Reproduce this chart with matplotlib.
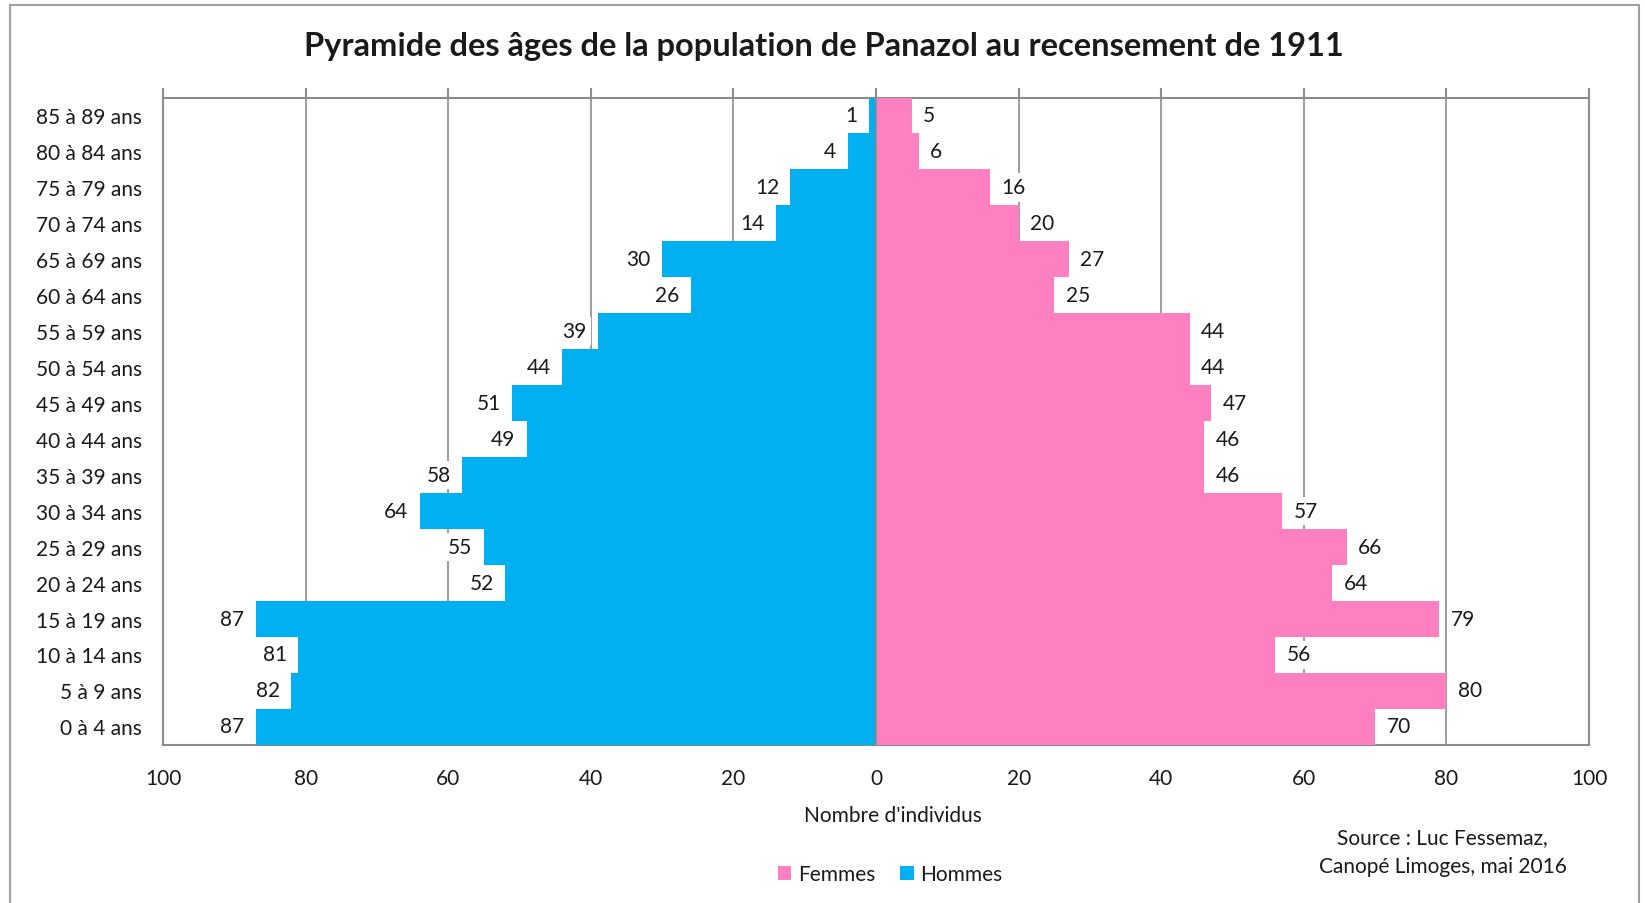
import matplotlib.pyplot as plt
import numpy as np
from matplotlib.patches import Rectangle

plt.rcParams["font.family"] = ["Lato", "DejaVu Sans"]

# age groups, bottom to top
ages = [
    "0 à 4 ans", "5 à 9 ans", "10 à 14 ans", "15 à 19 ans", "20 à 24 ans",
    "25 à 29 ans", "30 à 34 ans", "35 à 39 ans", "40 à 44 ans", "45 à 49 ans",
    "50 à 54 ans", "55 à 59 ans", "60 à 64 ans", "65 à 69 ans", "70 à 74 ans",
    "75 à 79 ans", "80 à 84 ans", "85 à 89 ans",
]
hommes = [87, 82, 81, 87, 52, 55, 64, 58, 49, 51, 44, 39, 26, 30, 14, 12, 4, 1]
femmes = [70, 80, 56, 79, 64, 66, 57, 46, 46, 47, 44, 44, 25, 27, 20, 16, 6, 5]
xticks = [-100, -80, -60, -40, -20, 0, 20, 40, 60, 80, 100]

BLUE = "#00B0F0"
PINK = "#FF80C0"
GRID = "#8C8C8C"
TXT = "#1a1a1a"
FS = 15

fig = plt.figure(figsize=(16.45, 9.035), dpi=100)
ax = fig.add_axes([0.0991, 0.175, 0.8669, 0.7165])

y = np.arange(len(ages))
ax.barh(y, [-h for h in hommes], height=1.0, color=BLUE, zorder=3, label="Hommes")
ax.barh(y, femmes, height=1.0, color=PINK, zorder=3, label="Femmes")

box = dict(boxstyle="square,pad=0.2", fc="white", ec="none")
for yi, h, f in zip(y, hommes, femmes):
    ax.text(-h - 1.6, yi, str(h), ha="right", va="center", fontsize=FS,
            color=TXT, zorder=4, bbox=box)
    ax.text(f + 1.6, yi, str(f), ha="left", va="center", fontsize=FS,
            color=TXT, zorder=4, bbox=box)

ax.set_xlim(-100, 100)
ax.set_ylim(-0.5, len(ages) - 0.5)
ax.set_xticks(xticks)
ax.set_xticklabels([str(abs(t)) for t in xticks], fontsize=FS, color=TXT)
ax.set_yticks(y)
ax.set_yticklabels(ages, fontsize=FS, color=TXT)
ax.tick_params(axis="y", length=0, pad=15)
ax.tick_params(axis="x", length=0, pad=17)
ax.xaxis.grid(True, color=GRID, lw=1.2, zorder=1)
ax.set_axisbelow(True)
for sp in ax.spines.values():
    sp.set_color(GRID)
    sp.set_linewidth(1.5)

# vertical axis with boundary ticks at zero
ax.axvline(0, color=GRID, lw=1.2, zorder=3.5)
sec = ax.secondary_yaxis(0.5)
sec.set_yticks(np.arange(-0.5, len(ages), 1.0))
sec.set_yticklabels([])
sec.tick_params(length=5, width=1.2, color=GRID, direction="out")
sec.spines["left"].set_visible(False)

# top ticks at gridlines
top = ax.secondary_xaxis("top")
top.set_xticks(xticks)
top.set_xticklabels([])
top.tick_params(length=7, width=1.5, color=GRID)
top.spines["top"].set_visible(False)

fig.text(0.543, 0.097, "Nombre d'individus", ha="center", va="center",
         fontsize=FS, color=TXT)

fig.text(0.501, 0.948,
         "Pyramide des âges de la population de Panazol au recensement de 1911",
         ha="center", va="center", fontsize=23.5, fontweight="bold", color=TXT)

handles, labels = ax.get_legend_handles_labels()
fig.legend(handles[::-1], labels[::-1], loc="center", bbox_to_anchor=(0.541, 0.032),
           ncol=2, frameon=False, fontsize=FS, handlelength=0.65, handleheight=0.65,
           handletextpad=0.3, columnspacing=1.2, labelcolor=TXT)

fig.text(0.877, 0.0565, "Source : Luc Fessemaz,\nCanopé Limoges, mai 2016",
         ha="center", va="center", fontsize=FS, color=TXT, linespacing=1.6)

fig.patches.append(Rectangle((0.006, -0.01), 0.9904, 1.0034, transform=fig.transFigure,
                             fill=False, ec="#A0A0A0", lw=1.5))

fig.savefig("out.png", dpi=100)
